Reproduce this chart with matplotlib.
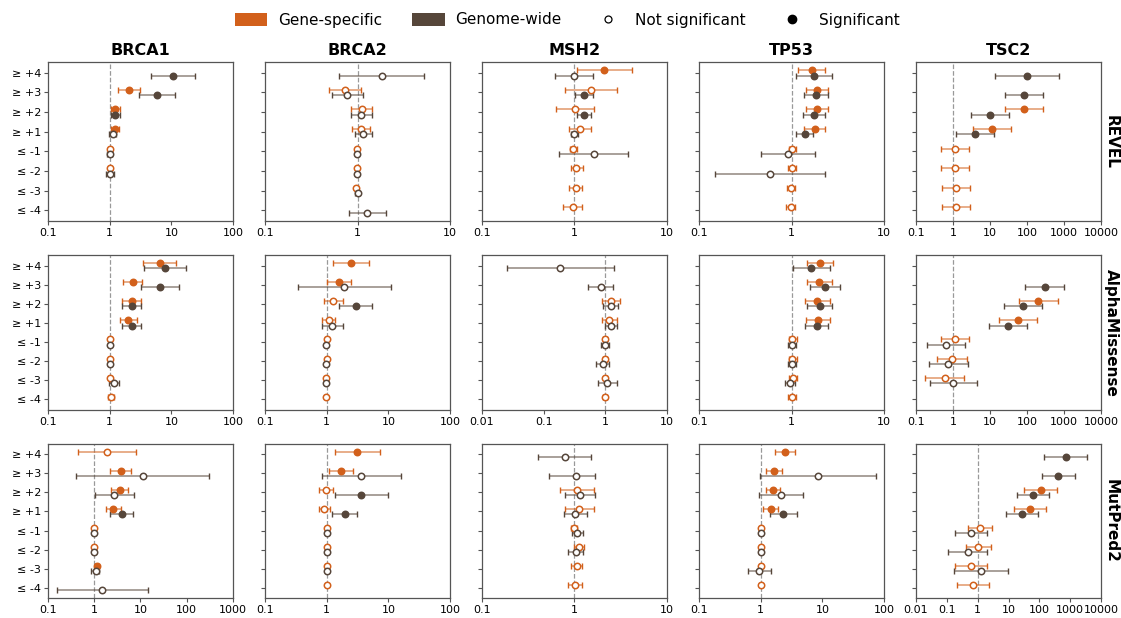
import numpy as np
import matplotlib
matplotlib.use("Agg")
import matplotlib.pyplot as plt
from matplotlib.patches import Patch
from matplotlib.lines import Line2D

# Score thresholds (rows inside each panel, top to bottom)
categories = ["≥ +4", "≥ +3", "≥ +2", "≥ +1", "≤ -1", "≤ -2", "≤ -3", "≤ -4"]
genes = ["BRCA1", "BRCA2", "MSH2", "TP53", "TSC2"]
predictors = ["REVEL", "AlphaMissense", "MutPred2"]

# Each entry: (odds ratio, CI low, CI high, significant) or None when absent
# ---- REVEL ----
revel_brca1_gene = [None, (2.06, 1.36, 3.06, 1), (1.24, 1.04, 1.45, 1), (1.2, 1.04, 1.40, 1),
                    (1.0, 0.97, 1.03, 0), (1.01, 0.98, 1.04, 0), None, None]
revel_brca1_genome = [(10.5, 4.7, 24, 1), (5.9, 3.0, 11.3, 1), (1.24, 1.05, 1.47, 1), (1.12, 0.98, 1.28, 0),
                      (1.0, 0.92, 1.1, 0), (1.0, 0.86, 1.16, 0), None, None]
revel_brca2_gene = [None, (0.74, 0.49, 1.09, 0), (1.11, 0.86, 1.44, 0), (1.08, 0.88, 1.35, 0),
                    (0.99, 0.96, 1.02, 0), (0.99, 0.96, 1.02, 0), (0.97, 0.93, 1.01, 0), None]
revel_brca2_genome = [(1.84, 0.63, 5.2, 0), (0.77, 0.53, 1.14, 0), (1.10, 0.86, 1.43, 0), (1.15, 0.94, 1.42, 0),
                      (0.99, 0.97, 1.01, 0), (0.99, 0.97, 1.01, 0), (1.0, 0.94, 1.05, 0), (1.28, 0.80, 2.03, 0)]
revel_msh2_gene = [(2.09, 1.07, 4.16, 1), (1.5, 0.79, 2.89, 0), (1.01, 0.63, 1.62, 0), (1.15, 0.88, 1.51, 0),
                   (0.97, 0.90, 1.07, 0), (1.05, 0.91, 1.23, 0), (1.03, 0.88, 1.22, 0), (0.96, 0.76, 1.2, 0)]
revel_msh2_genome = [(1.0, 0.62, 1.59, 0), (1.27, 1.02, 1.59, 1), (1.26, 1.07, 1.5, 1), (1.0, 0.92, 1.09, 0),
                     (1.62, 0.68, 3.79, 0), None, None, None]
revel_tp53_gene = [(1.66, 1.19, 2.32, 1), (1.91, 1.43, 2.51, 1), (1.9, 1.43, 2.47, 1), (1.8, 1.38, 2.33, 1),
                   (1.02, 0.93, 1.13, 0), (1.0, 0.91, 1.11, 0), (0.99, 0.9, 1.1, 0), (0.98, 0.88, 1.1, 0)]
revel_tp53_genome = [(1.76, 1.11, 2.76, 1), (1.85, 1.35, 2.51, 1), (1.74, 1.34, 2.28, 1), (1.39, 1.11, 1.72, 1),
                     (0.91, 0.47, 1.79, 0), (0.59, 0.15, 2.33, 0), None, None]
revel_tsc2_gene = [None, None, (82, 25, 268, 1), (11.5, 3.5, 36.7, 1),
                   (1.16, 0.47, 2.7, 0), (1.16, 0.47, 2.7, 0), (1.23, 0.5, 2.93, 0), (1.23, 0.5, 2.93, 0)]
revel_tsc2_genome = [(99, 13.3, 755, 1), (82, 25, 268, 1), (10.2, 3.1, 32.4, 1), (3.9, 1.23, 12.5, 1),
                     None, None, None, None]

# ---- AlphaMissense ----
am_brca1_gene = [(6.5, 3.47, 12.0, 1), (2.35, 1.63, 3.34, 1), (2.29, 1.61, 3.21, 1), (2.02, 1.46, 2.77, 1),
                 (1.01, 0.98, 1.04, 0), (1.0, 0.97, 1.03, 0), (1.0, 0.97, 1.03, 0), (1.04, 0.93, 1.18, 0)]
am_brca1_genome = [(7.75, 3.55, 17.1, 1), (6.58, 3.26, 13.5, 1), (2.29, 1.57, 3.26, 1), (2.29, 1.57, 3.17, 1),
                   (1.0, 0.97, 1.03, 0), (1.01, 0.98, 1.04, 0), (1.19, 0.98, 1.44, 0), None]
am_brca2_gene = [(2.5, 1.26, 4.85, 1), (1.56, 1.02, 2.46, 1), (1.28, 0.91, 1.82, 0), (1.08, 0.85, 1.39, 0),
                 (1.0, 0.97, 1.03, 0), (1.0, 0.97, 1.03, 0), (0.99, 0.96, 1.02, 0), (0.99, 0.96, 1.02, 0)]
am_brca2_genome = [None, (1.93, 0.34, 10.9, 0), (2.97, 1.6, 5.5, 1), (1.24, 0.84, 1.86, 0),
                   (0.98, 0.95, 1.01, 0), (0.97, 0.94, 1.0, 0), (0.97, 0.94, 1.0, 0), None]
am_msh2_gene = [None, None, (1.23, 0.89, 1.73, 0), (1.16, 0.88, 1.55, 0),
                (1.0, 0.92, 1.08, 0), (1.0, 0.93, 1.08, 0), (1.0, 0.94, 1.07, 0), (1.0, 0.93, 1.08, 0)]
am_msh2_genome = [(0.186, 0.025, 1.38, 0), (0.835, 0.53, 1.33, 0), (1.22, 0.91, 1.63, 0), (1.23, 0.98, 1.55, 0),
                  (1.0, 0.86, 1.16, 0), (0.9, 0.71, 1.13, 0), (1.07, 0.75, 1.55, 0), None]
am_tp53_gene = [(2.04, 1.47, 2.84, 1), (1.98, 1.46, 2.72, 1), (1.91, 1.40, 2.58, 1), (1.93, 1.45, 2.58, 1),
                (1.02, 0.93, 1.14, 0), (1.02, 0.93, 1.14, 0), (1.03, 0.93, 1.14, 0), (1.0, 0.92, 1.12, 0)]
am_tp53_genome = [(1.64, 1.03, 2.63, 1), (2.32, 1.57, 3.35, 1), (2.01, 1.48, 2.76, 1), (1.88, 1.40, 2.5, 1),
                  (1.0, 0.92, 1.12, 0), (1.0, 0.92, 1.12, 0), (0.97, 0.85, 1.1, 0), None]
am_tsc2_gene = [None, None, (201, 59.5, 680, 1), (55.7, 17.2, 185, 1),
                (1.14, 0.47, 2.76, 0), (0.93, 0.36, 2.39, 0), (0.6, 0.18, 1.98, 0), None]
am_tsc2_genome = [None, (299, 88.5, 991, 1), (78, 23.5, 253, 1), (31.6, 9.55, 100, 1),
                  (0.65, 0.196, 2.15, 0), (0.75, 0.22, 2.49, 0), (1.03, 0.24, 4.38, 0), None]

# ---- MutPred2 ----
mp_brca1_gene = [(1.89, 0.45, 7.9, 0), (3.71, 2.2, 6.1, 1), (3.53, 2.28, 5.46, 1), (2.56, 1.8, 3.71, 1),
                 (1.0, 0.97, 1.03, 0), (1.0, 0.97, 1.03, 0), (1.12, 1.05, 1.18, 1), None]
mp_brca1_genome = [None, (11.1, 0.40, 303, 0), (2.65, 1.02, 7.27, 0), (3.9, 2.2, 6.9, 1),
                   (1.0, 0.97, 1.03, 0), (1.0, 0.97, 1.03, 0), (1.07, 0.87, 1.29, 0), (1.5, 0.16, 14.2, 0)]
mp_brca2_gene = [(3.16, 1.34, 7.36, 1), (1.7, 1.08, 2.68, 1), (0.97, 0.75, 1.28, 0), (0.92, 0.75, 1.15, 0),
                 (1.0, 0.97, 1.03, 0), (1.0, 0.97, 1.03, 0), (1.0, 0.97, 1.03, 0), (1.0, 0.97, 1.03, 0)]
mp_brca2_genome = [None, (3.63, 0.83, 16.3, 0), (3.59, 1.34, 9.7, 1), (1.96, 1.23, 3.16, 1),
                   (1.0, 0.97, 1.03, 0), (1.0, 0.97, 1.03, 0), (1.0, 0.97, 1.03, 0), None]
mp_msh2_gene = [None, None, (1.06, 0.69, 1.64, 0), (1.12, 0.78, 1.64, 0),
                (0.99, 0.92, 1.07, 0), (1.12, 0.99, 1.28, 0), (1.06, 0.91, 1.21, 0), (1.02, 0.85, 1.22, 0)]
mp_msh2_genome = [(0.78, 0.40, 1.51, 0), (1.05, 0.53, 1.67, 0), (1.14, 0.79, 1.66, 0), (1.02, 0.77, 1.35, 0),
                  (1.07, 0.93, 1.24, 0), (1.03, 0.86, 1.25, 0), None, None]
mp_tp53_gene = [(2.46, 1.7, 3.54, 1), (1.62, 1.21, 2.19, 1), (1.56, 1.21, 2.06, 1), (1.46, 1.1, 1.91, 1),
                (1.0, 0.96, 1.04, 0), (1.0, 0.96, 1.04, 0), (1.03, 0.98, 1.07, 0), (1.03, 0.98, 1.07, 0)]
mp_tp53_genome = [None, (8.55, 0.97, 73.8, 0), (2.14, 0.93, 4.85, 0), (2.31, 1.41, 3.87, 1),
                  (1.02, 0.98, 1.06, 0), (1.0, 0.96, 1.04, 0), (0.94, 0.62, 1.45, 0), None]
mp_tsc2_gene = [None, None, (110, 32.7, 369, 1), (50, 15.3, 164, 1),
                (1.17, 0.49, 2.83, 0), (1.03, 0.41, 2.7, 0), (0.62, 0.19, 2.04, 0), (0.69, 0.21, 2.32, 0)]
mp_tsc2_genome = [(708, 145, 3390, 1), (407, 118, 1400, 1), (63, 18.8, 205, 1), (28, 8.4, 90, 1),
                  (0.62, 0.19, 2.04, 0), (0.47, 0.11, 2.04, 0), (1.26, 0.17, 9.8, 0), None]

# x-axis limits per panel
revel_xlims = [(0.1, 100), (0.1, 10), (0.1, 10), (0.1, 10), (0.1, 10000)]
am_xlims = [(0.1, 100), (0.1, 100), (0.01, 10), (0.1, 10), (0.1, 10000)]
mp_xlims = [(0.1, 1000), (0.1, 100), (0.1, 10), (0.1, 100), (0.01, 10000)]

grid_gene = [
    [revel_brca1_gene, revel_brca2_gene, revel_msh2_gene, revel_tp53_gene, revel_tsc2_gene],
    [am_brca1_gene, am_brca2_gene, am_msh2_gene, am_tp53_gene, am_tsc2_gene],
    [mp_brca1_gene, mp_brca2_gene, mp_msh2_gene, mp_tp53_gene, mp_tsc2_gene],
]
grid_genome = [
    [revel_brca1_genome, revel_brca2_genome, revel_msh2_genome, revel_tp53_genome, revel_tsc2_genome],
    [am_brca1_genome, am_brca2_genome, am_msh2_genome, am_tp53_genome, am_tsc2_genome],
    [mp_brca1_genome, mp_brca2_genome, mp_msh2_genome, mp_tp53_genome, mp_tsc2_genome],
]
grid_xlims = [revel_xlims, am_xlims, mp_xlims]

GENE_COLOR = "#D2601B"
GENOME_COLOR = "#56463A"
SPINE_COLOR = "#555555"

W, H = 1121, 618
fig = plt.figure(figsize=(W / 100, H / 100), dpi=100)

col_left_px = [48, 265, 482, 699, 916]
col_width_px = 185
row_box_px = [(62, 221), (255, 410), (444, 598)]


def draw_series(ax, series, offset, color):
    for i, item in enumerate(series):
        if item is None:
            continue
        val, lo, hi, sig = item
        y = i + offset
        eb = ax.errorbar([val], [y], xerr=[[val - lo], [hi - val]], fmt="none",
                         ecolor=color, elinewidth=1.1, capsize=2.2, capthick=1.0, zorder=2)
        for lc in eb[2]:
            lc.set_alpha(0.65)
        ax.plot([val], [y], marker="o", markersize=4.6,
                markerfacecolor=color if sig else "white",
                markeredgecolor=color, markeredgewidth=1.1, linestyle="none", zorder=3)


for r in range(3):
    top_px, bot_px = row_box_px[r]
    for c in range(5):
        rect = [col_left_px[c] / W, 1 - bot_px / H, col_width_px / W, (bot_px - top_px) / H]
        ax = fig.add_axes(rect)
        ax.set_xscale("log")
        xmin, xmax = grid_xlims[r][c]
        ax.set_xlim(xmin, xmax)
        ax.set_ylim(len(categories) - 0.45, -0.55)
        ax.axvline(1, color="#999999", linestyle="--", linewidth=0.9, zorder=1)

        draw_series(ax, grid_gene[r][c], -0.14, GENE_COLOR)
        draw_series(ax, grid_genome[r][c], 0.14, GENOME_COLOR)

        decades = np.arange(int(round(np.log10(xmin))), int(round(np.log10(xmax))) + 1)
        ticks = [10.0 ** d for d in decades]
        ax.set_xticks(ticks)
        ax.set_xticklabels([f"{t:g}" for t in ticks], fontsize=8)
        ax.xaxis.set_minor_locator(matplotlib.ticker.NullLocator())
        ax.set_yticks(range(len(categories)))
        if c == 0:
            ax.set_yticklabels(categories, fontsize=8)
        else:
            ax.set_yticklabels([])
        ax.tick_params(length=3, width=0.8, color=SPINE_COLOR, pad=2)
        for sp in ax.spines.values():
            sp.set_color(SPINE_COLOR)
            sp.set_linewidth(0.9)

        if r == 0:
            ax.set_title(genes[c], fontsize=11.5, fontweight="bold", pad=5)
        if c == 4:
            ax.text(1.015, 0.5, predictors[r], transform=ax.transAxes, rotation=-90,
                    ha="left", va="center", fontsize=11, fontweight="bold")

handles = [
    Patch(facecolor=GENE_COLOR, edgecolor="none", label="Gene-specific"),
    Patch(facecolor=GENOME_COLOR, edgecolor="none", label="Genome-wide"),
    Line2D([0], [0], marker="o", color="black", markerfacecolor="white", markersize=5,
           markeredgewidth=0.9, linestyle="none", label="Not significant"),
    Line2D([0], [0], marker="o", color="black", markersize=6, linestyle="none", label="Significant"),
]
fig.legend(handles=handles, loc="center", bbox_to_anchor=(0.506, 1 - 20 / H), ncol=4,
           frameon=False, fontsize=11, handlelength=2.1, handleheight=0.9,
           handletextpad=0.7, columnspacing=2.0)

fig.savefig("out.png", dpi=100)
